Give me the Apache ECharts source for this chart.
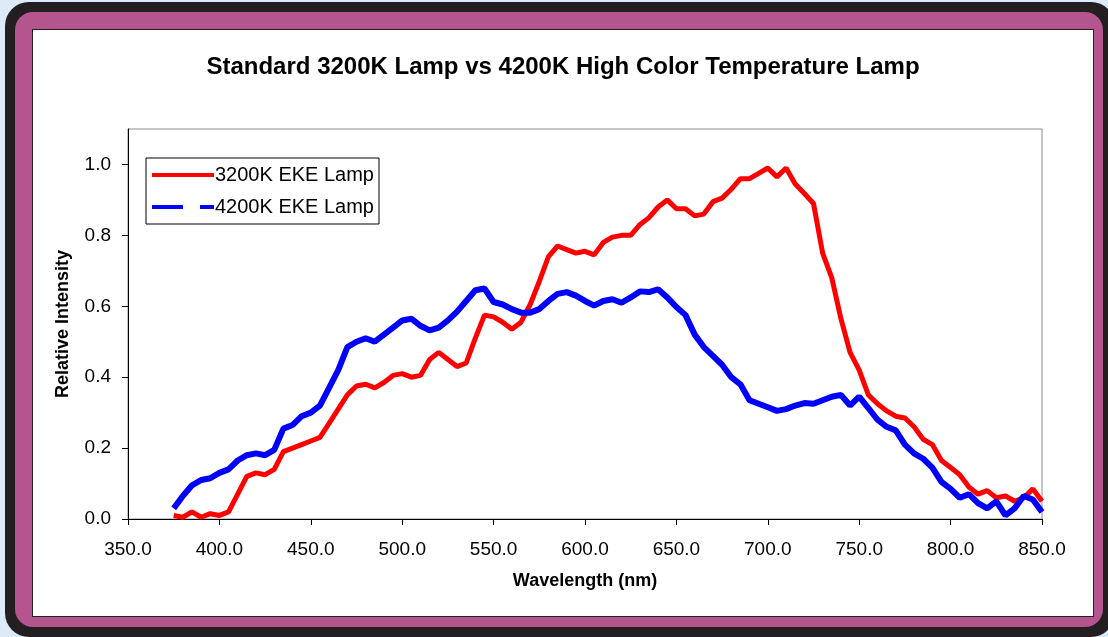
<!DOCTYPE html>
<html>
<head>
<meta charset="utf-8">
<script src="https://cdn.jsdelivr.net/npm/echarts@6/dist/echarts.min.js"></script>
<style>
  html, body { margin: 0; padding: 0; width: 1108px; height: 637px; overflow: hidden; background: #dcebf7; }
  #frame { position: absolute; left: 5px; top: 2px; width: 1110px; height: 635px; background: #231f20; border-radius: 24px; }
  #purple { position: absolute; left: 15px; top: 12px; width: 1088px; height: 615px; background: #b45590; border-radius: 18px; }
  #chart { position: absolute; left: 32px; top: 29px; width: 1060px; height: 586px; background: #fff; border: 1px solid #231f20; }
</style>
</head>
<body>
<div id="frame"></div>
<div id="purple"></div>
<div id="chart"></div>
<script>
// wavelength grid (nm)
let wavelength = [375, 380, 385, 390, 395, 400, 405, 410, 415, 420, 425, 430, 435, 440, 445, 450, 455, 460, 465, 470,
  475, 480, 485, 490, 495, 500, 505, 510, 515, 520, 525, 530, 535, 540, 545, 550, 555, 560, 565, 570,
  575, 580, 585, 590, 595, 600, 605, 610, 615, 620, 625, 630, 635, 640, 645, 650, 655, 660, 665, 670,
  675, 680, 685, 690, 695, 700, 705, 710, 715, 720, 725, 730, 735, 740, 745, 750, 755, 760, 765, 770,
  775, 780, 785, 790, 795, 800, 805, 810, 815, 820, 825, 830, 835, 840, 845, 850];

// 3200K EKE Lamp relative intensity
let lamp3200 = [0.01, 0.005, 0.02, 0.005, 0.015, 0.01, 0.02, 0.07, 0.12, 0.13, 0.125, 0.14, 0.19, 0.20, 0.21, 0.22, 0.23, 0.27, 0.31, 0.35,
  0.375, 0.38, 0.37, 0.385, 0.405, 0.41, 0.40, 0.405, 0.45, 0.47, 0.45, 0.43, 0.44, 0.51, 0.575, 0.57, 0.555, 0.535, 0.555, 0.605,
  0.67, 0.74, 0.77, 0.76, 0.75, 0.755, 0.745, 0.78, 0.795, 0.80, 0.80, 0.83, 0.85, 0.88, 0.90, 0.875, 0.875, 0.855, 0.86, 0.895,
  0.905, 0.93, 0.96, 0.96, 0.975, 0.99, 0.965, 0.99, 0.945, 0.918, 0.89, 0.75, 0.68, 0.565, 0.47, 0.42, 0.35, 0.325, 0.305, 0.29,
  0.285, 0.26, 0.225, 0.21, 0.165, 0.145, 0.125, 0.09, 0.07, 0.08, 0.06, 0.065, 0.05, 0.06, 0.085, 0.05];

// 4200K EKE Lamp relative intensity
let lamp4200 = [0.03, 0.065, 0.095, 0.11, 0.115, 0.13, 0.14, 0.165, 0.18, 0.185, 0.18, 0.195, 0.255, 0.265, 0.29, 0.30, 0.32, 0.37, 0.42, 0.485,
  0.50, 0.51, 0.50, 0.52, 0.54, 0.56, 0.565, 0.545, 0.532, 0.54, 0.56, 0.585, 0.615, 0.645, 0.65, 0.612, 0.605, 0.592, 0.582, 0.582,
  0.592, 0.615, 0.635, 0.64, 0.63, 0.615, 0.602, 0.615, 0.62, 0.61, 0.625, 0.642, 0.64, 0.648, 0.625, 0.598, 0.575, 0.52, 0.485, 0.46,
  0.435, 0.40, 0.38, 0.335, 0.325, 0.315, 0.305, 0.31, 0.32, 0.327, 0.325, 0.335, 0.345, 0.35, 0.32, 0.345, 0.313, 0.28, 0.26, 0.25,
  0.21, 0.185, 0.17, 0.145, 0.105, 0.085, 0.06, 0.07, 0.045, 0.03, 0.05, 0.01, 0.03, 0.065, 0.055, 0.02];

let seriesNames = ['3200K EKE Lamp', '4200K EKE Lamp'];

function pairs(vals) {
    return wavelength.map(function (w, i) { return [w, vals[i]]; });
}

let myChart = echarts.init(document.getElementById('chart'));
let font = 'Liberation Sans, Arial, sans-serif';
let option = {
    animation: false,
    title: {
        text: 'Standard 3200K Lamp vs 4200K High Color Temperature Lamp',
        left: 'center',
        top: 20,
        textStyle: { fontFamily: font, fontSize: 24, fontWeight: 'bold', color: '#000' }
    },
    legend: {
        left: 113,
        top: 128,
        orient: 'vertical',
        padding: [7, 5, 7, 6],
        itemGap: 12,
        itemWidth: 62,
        itemHeight: 14,
        backgroundColor: '#fff',
        borderColor: '#000',
        borderWidth: 1,
        borderRadius: 0,
        textStyle: { fontFamily: font, fontSize: 20, color: '#000', padding: [0, 0, 0, -4] },
        data: [
            { name: seriesNames[0], icon: 'path://M0,0H62V4H0Z', itemStyle: { color: '#ff0000' } },
            { name: seriesNames[1], icon: 'path://M0,0H31V4H0Z M48,0H62V4H48Z', itemStyle: { color: '#0000ff' } }
        ]
    },
    grid: {
        left: 95,
        top: 99,
        right: 51,
        bottom: 97,
        show: true,
        borderColor: '#8c8c8c',
        borderWidth: 1
    },
    xAxis: {
        type: 'value',
        min: 350,
        max: 850,
        interval: 50,
        name: 'Wavelength (nm)',
        nameLocation: 'middle',
        nameGap: 53,
        nameTextStyle: { fontFamily: font, fontSize: 18, fontWeight: 'bold', color: '#000' },
        axisLine: { lineStyle: { color: '#000', width: 1 } },
        axisTick: { show: true, length: 6, lineStyle: { color: '#000' } },
        axisLabel: {
            margin: 21,
            fontFamily: font, fontSize: 19, color: '#000',
            formatter: function (v) { return v.toFixed(1); }
        },
        splitLine: { show: false }
    },
    yAxis: {
        type: 'value',
        min: 0,
        max: 1.1,
        interval: 0.2,
        name: 'Relative Intensity',
        nameLocation: 'middle',
        nameGap: 56,
        nameTextStyle: { fontFamily: font, fontSize: 18, fontWeight: 'bold', color: '#000' },
        axisLine: { show: true, lineStyle: { color: '#000', width: 1 } },
        axisTick: { show: true, length: 6, lineStyle: { color: '#000' } },
        axisLabel: {
            margin: 17,
            showMaxLabel: false,
            fontFamily: font, fontSize: 19, color: '#000',
            formatter: function (v) { return v > 1.05 ? '' : v.toFixed(1); }
        },
        splitLine: { show: false }
    },
    series: [
        {
            name: seriesNames[0],
            type: 'line',
            showSymbol: false,
            color: '#ff0000',
            lineStyle: { width: 5, color: '#ff0000' },
            data: pairs(lamp3200)
        },
        {
            name: seriesNames[1],
            type: 'line',
            showSymbol: false,
            color: '#0000ff',
            lineStyle: { width: 6, color: '#0000ff' },
            data: pairs(lamp4200)
        }
    ]
};
myChart.setOption(option);
</script>
</body>
</html>
